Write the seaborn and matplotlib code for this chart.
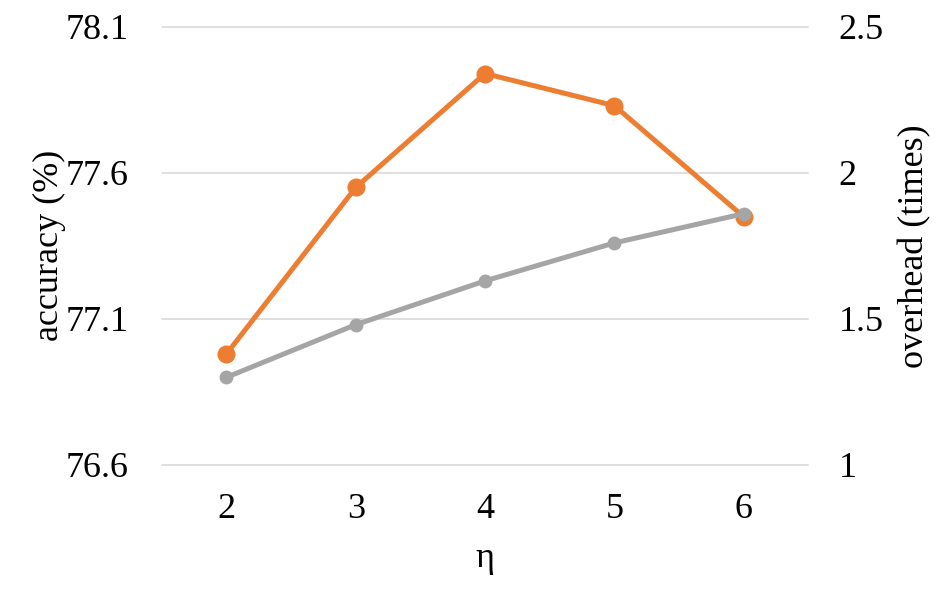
import matplotlib
matplotlib.use("Agg")
import matplotlib.pyplot as plt
import seaborn as sns
import pandas as pd

# data
eta = [2, 3, 4, 5, 6]
accuracy = [76.98, 77.55, 77.94, 77.83, 77.45]
overhead = [1.30, 1.48, 1.63, 1.76, 1.86]

acc_ticks = [76.6, 77.1, 77.6, 78.1]
ovh_ticks = [1, 1.5, 2, 2.5]
ovh_labels = ["1", "1.5", "2", "2.5"]

sns.set_style("white")
plt.rcParams["font.family"] = ["Liberation Serif", "DejaVu Serif"]
plt.rcParams["text.color"] = "black"
plt.rcParams["axes.labelcolor"] = "black"

df = pd.DataFrame({"eta": eta, "accuracy": accuracy, "overhead": overhead})

fig = plt.figure(figsize=(9.52, 5.96), dpi=100)
ax = fig.add_axes([0.170, 0.220, 0.679, 0.735])
ax2 = ax.twinx()

sns.lineplot(data=df, x="eta", y="accuracy", ax=ax, color="#ED7D31",
             linewidth=3.6, marker="o", markersize=13, markeredgewidth=0)
sns.lineplot(data=df, x="eta", y="overhead", ax=ax2, color="#A5A5A5",
             linewidth=3.6, marker="o", markersize=10, markeredgewidth=0)

ax.set_xlim(1.5, 6.5)
ax.set_ylim(76.6, 78.1)
ax.set_yticks(acc_ticks)
ax.set_yticklabels([f"{t:.1f}" for t in acc_ticks])
ax2.set_ylim(1, 2.5)
ax2.set_yticks(ovh_ticks)
ax2.set_yticklabels(ovh_labels)
ax.set_xticks(eta)

# gridlines drawn unclipped so the top and bottom ones show in full
for t in acc_ticks:
    ax.axhline(t, color="#D9D9D9", linewidth=1.2, zorder=0, clip_on=False)

for a in (ax, ax2):
    for s in a.spines.values():
        s.set_visible(False)
    a.tick_params(axis="both", length=0, labelsize=26, labelcolor="black")
ax.tick_params(axis="y", pad=24)
ax2.tick_params(axis="y", pad=22)
ax.tick_params(axis="x", pad=20)

ax.set_xlabel("η", fontsize=26, labelpad=12)
ax.set_ylabel("accuracy (%)", fontsize=26, labelpad=0)
ax2.set_ylabel("overhead (times)", fontsize=26, labelpad=10)

fig.savefig("out.png", dpi=100)
